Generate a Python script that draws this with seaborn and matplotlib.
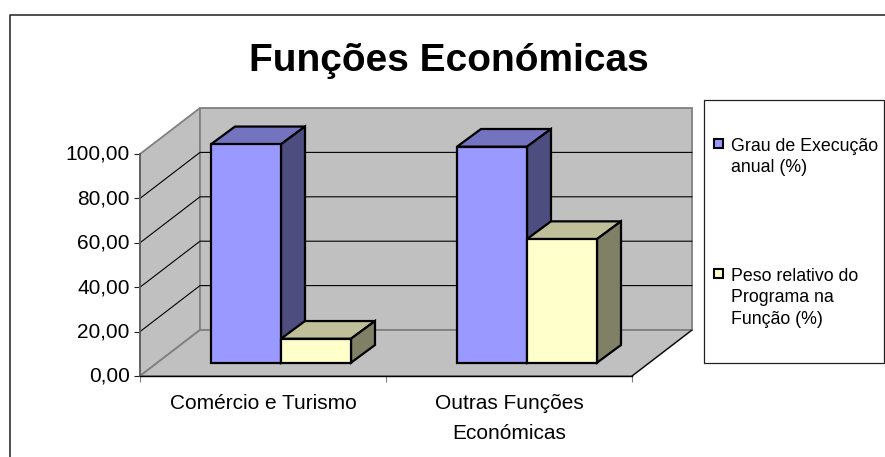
import matplotlib
matplotlib.use("Agg")
import matplotlib.pyplot as plt
import pandas as pd
import seaborn as sns
from matplotlib.lines import Line2D
from matplotlib.patches import Polygon, Rectangle
from matplotlib.transforms import Affine2D, IdentityTransform

categories = ["Comércio e Turismo", "Outras Funções\nEconómicas"]
series_names = ["Grau de Execução\nanual (%)", "Peso relativo do\nPrograma na\nFunção (%)"]
grau_execucao = [98.4, 97.3]
peso_relativo = [10.8, 55.7]
y_ticks = [0, 20, 40, 60, 80, 100]
y_tick_labels = ["0,00", "20,00", "40,00", "60,00", "80,00", "100,00"]
title = "Funções Económicas"

W, H, DPI = 885, 457, 100
FRONT = ["#9999FF", "#FFFFCC"]
TOP = ["#7373BF", "#BFBF99"]
SIDE = ["#4D4D80", "#808066"]
WALL = "#C0C0C0"
WALL_EDGE = "#808080"
WALL_D = (60, 46)
BAR_SHIFT = (18, 13.3)
BAR_D = (24, 17.7)
BAR_LW = 1.6

sns.set_theme(style="white")
plt.rcParams["font.family"] = ["Liberation Sans", "DejaVu Sans"]
plt.rcParams["text.color"] = "black"
plt.rcParams["xtick.labelcolor"] = "black"
plt.rcParams["ytick.labelcolor"] = "black"

fig = plt.figure(figsize=(W / DPI, H / DPI), dpi=DPI, facecolor="white")


def px(x0, y0, x1, y1):
    return [x0 / W, 1 - y1 / H, (x1 - x0) / W, (y1 - y0) / H]


ax = fig.add_axes(px(140, 154, 632, 376))
df = pd.DataFrame({
    "categoria": categories * 2,
    "valor": grau_execucao + peso_relativo,
    "serie": [series_names[0]] * 2 + [series_names[1]] * 2,
})
sns.barplot(data=df, x="categoria", y="valor", hue="serie", palette=FRONT,
            width=140 / 246, gap=0, edgecolor="black", linewidth=BAR_LW,
            saturation=1, legend=False, ax=ax)
ax.set_xlim(-0.5, 1.5)
ax.set_ylim(0, 100)
ax.set_xlabel("")
ax.set_ylabel("")
ax.patch.set_visible(False)
ax.margins(0)

# axis decoration
ax.set_yticks(y_ticks, y_tick_labels)
ax.set_xticks([-0.5, 0.5, 1.5], ["", "", ""])
ax.set_xticks([0, 1], categories, minor=True)
ax.tick_params(axis="y", length=4.3, width=0.8, color="#202020", left=True, pad=3,
               labelsize=15, labelcolor="black")
ax.tick_params(axis="x", which="major", length=4.3, width=0.8, color="#808080", bottom=True)
ax.tick_params(axis="x", which="minor", length=0, pad=13, labelsize=15, labelcolor="black")
for lab in ax.get_xticklabels(minor=True):
    lab.set_linespacing(1.72)
for lab in ax.get_yticklabels():
    lab.set_transform(lab.get_transform() + Affine2D().translate(0, 1.5))
for side in ("top", "right"):
    ax.spines[side].set_visible(False)
ax.spines["left"].set_color("#606060")
ax.spines["left"].set_linewidth(1.3)
ax.spines["bottom"].set_color("black")
ax.spines["bottom"].set_linewidth(1.0)

fig.canvas.draw()
to_px = ax.transData.transform
ident = IdentityTransform()


def shifted(p, d):
    return (p[0] + d[0], p[1] + d[1])


def poly(points, face, edge, lw, z):
    ax.add_patch(Polygon(points, closed=True, facecolor=face, edgecolor=edge, linewidth=lw,
                         transform=ident, clip_on=False, zorder=z, joinstyle="miter"))


# walls and floor
p00 = to_px((-0.5, 0))
p10 = to_px((1.5, 0))
p01 = to_px((-0.5, 100))
p11 = to_px((1.5, 100))
poly([p00, p01, shifted(p01, WALL_D), shifted(p00, WALL_D)], WALL, WALL_EDGE, 1.3, 0.5)
poly([shifted(p00, WALL_D), shifted(p01, WALL_D), shifted(p11, WALL_D), shifted(p10, WALL_D)],
     WALL, WALL_EDGE, 1.3, 0.6)
poly([p00, p10, shifted(p10, WALL_D), shifted(p00, WALL_D)], WALL, WALL_EDGE, 1.3, 0.7)
ax.add_line(Line2D(*zip(p10, shifted(p10, WALL_D)), color="black", lw=0.8,
                   transform=ident, clip_on=False, zorder=0.8))

# grid lines on side and back walls
for v in y_ticks[1:-1]:
    a = to_px((-0.5, v))
    b = shifted(a, WALL_D)
    c = shifted(to_px((1.5, v)), WALL_D)
    ax.add_line(Line2D([a[0], b[0], c[0]], [a[1], b[1], c[1]], color="black", lw=0.8,
                       transform=ident, clip_on=False, zorder=0.9))

# 3-D bars: the seaborn rectangles are the front faces
bar_shift = Affine2D().translate(*BAR_SHIFT)
for i, bar in enumerate(list(ax.patches)):
    if not isinstance(bar, Rectangle):
        continue
    if bar.get_height() == 0:
        continue
    s = 0 if i < 2 else 1
    x0, x1 = bar.get_x(), bar.get_x() + bar.get_width()
    v = bar.get_height()
    br = shifted(to_px((x1, 0)), BAR_SHIFT)
    tl = shifted(to_px((x0, v)), BAR_SHIFT)
    tr = shifted(to_px((x1, v)), BAR_SHIFT)
    z = 3 + s
    poly([tl, tr, shifted(tr, BAR_D), shifted(tl, BAR_D)], TOP[s], "black", BAR_LW, z)
    poly([br, tr, shifted(tr, BAR_D), shifted(br, BAR_D)], SIDE[s], "black", BAR_LW, z)
    bar.set_transform(ax.transData + bar_shift)
    bar.set_clip_on(False)
    bar.set_zorder(z + 0.1)
    bar.set_joinstyle("miter")

# title
fig.text(449 / W, 1 - 61 / H, title, ha="center", va="center", fontsize=28, fontweight="bold")

# outer chart frame
fig.add_artist(Line2D([10 / W, 10 / W, 1], [0, 1 - 15 / H, 1 - 15 / H], color="#303030", lw=1.2))

# legend box
fig.add_artist(Rectangle((703.5 / W, 1 - 363 / H), 180.5 / W, 263 / H, facecolor="white",
                         edgecolor="#202020", lw=0.9, transform=fig.transFigure))
for y_top, col, label in zip([139, 269], FRONT, series_names):
    fig.add_artist(Rectangle((714 / W, 1 - (y_top + 9) / H), 9 / W, 9 / H, facecolor=col,
                             edgecolor="black", lw=1.5, transform=fig.transFigure))
    fig.text(731 / W, 1 - (y_top - 1) / H, label, ha="left", va="top", fontsize=12.8, linespacing=1.34)

fig.savefig("out.png", dpi=DPI, facecolor="white")
